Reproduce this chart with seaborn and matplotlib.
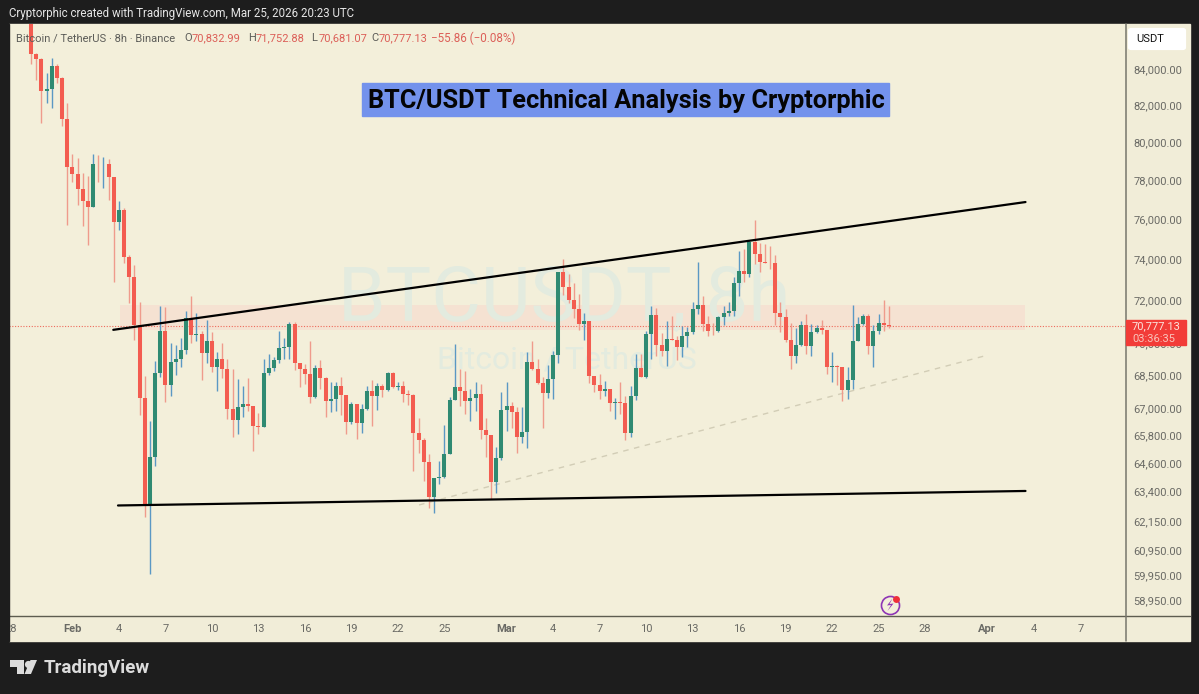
import pandas as pd
import matplotlib
matplotlib.use("Agg")
import matplotlib.pyplot as plt
from matplotlib.lines import Line2D
from matplotlib.patches import Rectangle, Polygon, FancyBboxPatch
import seaborn as sns

W, H = 1199, 694

opens = [87400, 84830, 84550, 82790, 82900, 84200, 83500, 81270, 78700, 78330, 77550, 76940, 76620, 78860, 78830, 78860, 78150, 75840, 76480, 74100, 73120,
         70830, 67490, 62830, 64850, 68600, 70560, 68060, 69120, 69250, 69665, 71150, 70340, 70400, 69540, 70100, 68870, 69260, 68790, 66980, 66490,
         67060, 67190, 67120, 66240, 66170, 68620, 68820, 69200, 69740, 69800, 70860, 69050, 68790, 68560, 67500, 68850, 68370, 67340, 67430, 68000,
         67600, 66400, 67190, 66370, 66980, 67790, 67540, 68020, 67835, 68600, 67980, 68020, 67640, 67600, 65900, 65610, 64640, 63150, 63960, 64030,
         65000, 67380, 67950, 67790, 67350, 67460, 67650, 66050, 65830, 63800, 64810, 66935, 67120, 66830, 65750, 65980, 69090, 68790, 68140, 67680,
         68320, 69430, 73370, 72640, 72020, 71600, 70870, 71040, 68460, 68050, 67790, 67870, 67240, 67280, 67240, 65930, 67570, 68850, 68400, 70400,
         71310, 69900, 69620, 70180, 70150, 69790, 70310, 70510, 71580, 71790, 70880, 70570, 70540, 71190, 71420, 71480, 72830, 73430, 73270, 74870,
         74240, 73860, 73840, 73820, 71420, 71200, 70135, 69400, 69900, 70830, 69840, 70490, 70700, 70610, 68880, 68920, 68880, 67835, 68290, 70090,
         70880, 71270, 69860, 70560, 70930, 70832.99]
closes = [84830, 84550, 82790, 82900, 84200, 83500, 81270, 78700, 78330, 77550, 76940, 76620, 78860, 78830, 78860, 78150, 75840, 76480, 74100, 73120, 70830,
          67490, 62830, 64850, 68600, 70560, 68060, 69120, 69250, 69665, 71150, 70340, 70400, 69540, 70100, 68870, 69260, 68790, 66980, 66490, 67060,
          67190, 67120, 66240, 66170, 68620, 68820, 69200, 69740, 69800, 70860, 69050, 68790, 68560, 67500, 68850, 68370, 67340, 67430, 68000, 67600,
          66400, 67190, 66370, 66980, 67790, 67540, 68020, 67835, 68600, 67980, 68020, 67640, 67600, 65900, 65610, 64640, 63150, 63960, 64030, 65000,
          67380, 67950, 67790, 67350, 67460, 67650, 66050, 65830, 63800, 64810, 66935, 67120, 66830, 65750, 65980, 69090, 68790, 68140, 67680, 68320,
          69430, 73370, 72640, 72020, 71600, 70870, 71040, 68460, 68050, 67790, 67870, 67240, 67280, 67240, 65930, 67570, 68850, 68400, 70400, 71310,
          69900, 69620, 70180, 70150, 69790, 70310, 70510, 71580, 71790, 70880, 70570, 70540, 71190, 71420, 71480, 72830, 73430, 73270, 74870, 74240,
          73860, 73840, 73820, 71420, 71200, 70135, 69400, 69900, 70830, 69840, 70490, 70700, 70610, 68880, 68920, 68880, 67835, 68290, 70090, 70880,
          71270, 69860, 70560, 70930, 70832, 70777.13]
highs = [88000, 84900, 84600, 83780, 84600, 84280, 83570, 82150, 79370, 79160, 78380, 78210, 79400, 79340, 79220, 79120, 78150, 76930, 76580, 74220, 73700,
         71950, 68480, 66430, 69170, 71740, 71680, 70000, 69880, 70230, 71520, 72230, 71400, 70550, 71075, 70500, 69550, 70000, 69250, 68790, 68330,
         68020, 68370, 67120, 66790, 69250, 69460, 69360, 70530, 70230, 70970, 70970, 69050, 69000, 70090, 68970, 69200, 68440, 68200, 68180, 68440,
         67600, 67300, 67190, 67190, 68020, 68290, 68170, 68100, 68660, 68630, 68200, 68220, 67835, 67630, 66560, 65680, 65000, 63980, 64710, 66270,
         67530, 69930, 68800, 68700, 67880, 68190, 68110, 66580, 65830, 65320, 67730, 68190, 67300, 67050, 67050, 69550, 70060, 69250, 68440, 68970,
         69620, 73400, 74000, 73290, 72830, 72300, 71420, 71040, 68460, 68540, 68220, 67870, 67480, 68190, 67570, 68030, 69470, 69470, 70560, 71750,
         71650, 70450, 71040, 71280, 70310, 70780, 70750, 71950, 73890, 72230, 71270, 70920, 71270, 71750, 71940, 73150, 74430, 74500, 74970, 75970,
         74820, 74770, 74640, 74220, 71950, 71600, 70920, 70700, 71000, 71340, 70880, 70830, 71075, 70610, 69550, 68970, 68880, 68870, 71800, 71230,
         71360, 71340, 70830, 71340, 72000, 71752.88]
lows = [84270, 83400, 81030, 82130, 81840, 83250, 80850, 75720, 77930, 76730, 75640, 74700, 76620, 77890, 77600, 76990, 72900, 75470, 73800, 71900, 70135,
        66710, 62330, 60000, 64500, 68420, 67280, 67570, 68500, 68860, 69480, 70000, 70060, 68290, 69080, 68660, 67790, 68370, 66520, 65760, 65860,
        66640, 66900, 65120, 65860, 66170, 68500, 68690, 69080, 69250, 69250, 68740, 67980, 68110, 67260, 67470, 67870, 66610, 66860, 66890, 66720,
        65870, 66320, 65640, 65900, 66940, 66240, 66940, 67500, 67790, 67930, 67835, 67280, 67150, 64280, 65030, 63860, 62700, 62480, 63700, 63960,
        65000, 67380, 67100, 66740, 66460, 66880, 65640, 64880, 63070, 63320, 64740, 66020, 66120, 65030, 65490, 65250, 68740, 68110, 66150, 67460,
        67410, 69080, 72270, 71890, 71160, 70600, 70135, 68140, 67750, 67410, 67540, 66890, 66520, 66750, 65610, 65760, 67370, 68400, 68370, 69260,
        69400, 69400, 68940, 70150, 69200, 69350, 69790, 70420, 71360, 70570, 70320, 70370, 70500, 70840, 71270, 71270, 72230, 72880, 73150, 73760,
        73400, 73840, 73510, 70840, 70500, 70030, 68770, 69080, 69870, 69470, 69400, 70450, 70420, 68540, 68180, 68060, 67350, 67430, 67880, 70060,
        70840, 69480, 68880, 70420, 70570, 70681.07]

first_candle = "2026-01-29 08:00"
last_price = 70777.13

price_ticks = [84000, 82000, 80000, 78000, 76000, 74000, 72000, 70000, 68500, 67000, 65800, 64600, 63400, 62150, 60950, 59950, 58950]
date_ticks = ["2026-01-28", "2026-02-01", "2026-02-04", "2026-02-07", "2026-02-10", "2026-02-13", "2026-02-16", "2026-02-19", "2026-02-22", "2026-02-25",
              "2026-03-01", "2026-03-04", "2026-03-07", "2026-03-10", "2026-03-13", "2026-03-16", "2026-03-19", "2026-03-22", "2026-03-25", "2026-03-28",
              "2026-04-01", "2026-04-04", "2026-04-07"]
date_labels = ["28", "Feb", "4", "7", "10", "13", "16", "19", "22", "25", "Mar", "4", "7", "10", "13", "16", "19", "22", "25", "28", "Apr", "4", "7"]

upper_dates = ["2026-02-03 15:20", "2026-04-03 11:15"]
upper_prices = [70605, 76880]
lower_dates = ["2026-02-03 22:40", "2026-04-03 11:15"]
lower_prices = [62808, 63418]
dash_dates = ["2026-02-23 08:40", "2026-04-01 01:10"]
dash_prices = [62830, 69430]
zone_dates = ["2026-02-04 02:00", "2026-04-03 10:00"]
zone_prices = [70605, 71785]

PANE = "#f3efda"
DARK = "#1d1d1d"
GREY = "#6a6a65"
RED_TXT = "#dc5f58"

sns.set_theme(style="white")
plt.rcParams["font.family"] = ["Roboto", "DejaVu Sans"]


def px(x, y):
    return x / W, 1 - y / H


def label(x, y, s, **kw):
    kw.setdefault("va", "center")
    kw.setdefault("zorder", 8)
    return fig.text(*px(x, y), s, **kw)


fig = plt.figure(figsize=(W / 100, H / 100), dpi=100, facecolor=DARK)

# pane + scale strips
fig.add_artist(Rectangle(px(9, 641), 1181 / W, 617 / H, transform=fig.transFigure, color="#f1edd8", zorder=-1))
ax = fig.add_axes([9 / W, 1 - 616 / H, 1116 / W, 592 / H], facecolor=PANE)

stamps = pd.date_range(first_candle, periods=len(opens), freq="8h")
rows_wick, rows_body = [], []
for i, stamp in enumerate(stamps):
    side = "up" if closes[i] >= opens[i] else "down"
    rows_wick += [(i, stamp, highs[i], side), (i, stamp, lows[i], side)]
    rows_body += [(i, stamp, opens[i], side), (i, stamp, closes[i], side)]
wicks = pd.DataFrame(rows_wick, columns=["id", "when", "price", "side"])
bodies = pd.DataFrame(rows_body, columns=["id", "when", "price", "side"])

# watermark sits above the zone, below everything else
ax.text(564 / W, 1 - 300 / H, "BTCUSDT, 8h", transform=fig.transFigure, fontsize=55,
        color="#e3ebdf", ha="center", va="center", zorder=0.7)
ax.text(567 / W, 1 - 360 / H, "Bitcoin / TetherUS", transform=fig.transFigure, fontsize=23,
        color="#e3ebdf", ha="center", va="center", zorder=0.7)

ax.fill_between(pd.to_datetime(zone_dates), zone_prices[0], zone_prices[1], color="#f5e2d2", lw=0, zorder=0.5)
ax.axhline(last_price, color="#ee6b5c", lw=0.8, ls=(0, (1, 1.5)), zorder=1)

sns.lineplot(data=wicks, x="when", y="price", hue="side", units="id", estimator=None, sort=False,
             palette={"up": "#5a98c4", "down": "#ef9b8c"}, lw=1.0, legend=False, ax=ax, zorder=2,
             solid_capstyle="butt")
sns.lineplot(data=bodies, x="when", y="price", hue="side", units="id", estimator=None, sort=False,
             palette={"up": "#2f8a72", "down": "#f35c50"}, lw=2.9, legend=False, ax=ax, zorder=3,
             solid_capstyle="butt")

sns.lineplot(x=pd.to_datetime(dash_dates), y=dash_prices, color="#d2cdb6", lw=1.0, ls=(0, (4, 4)), ax=ax, zorder=1.5)
sns.lineplot(x=pd.to_datetime(upper_dates), y=upper_prices, color="black", lw=1.6, ax=ax, zorder=4)
sns.lineplot(x=pd.to_datetime(lower_dates), y=lower_prices, color="black", lw=1.6, ax=ax, zorder=4)

ax.set_yscale("log")
ax.set_ylim(58349, 86563)
ax.set_xlim(pd.Timestamp("2026-01-27 21:57"), pd.Timestamp("2026-04-09 21:16"))
ax.set_xlabel("")
ax.set_ylabel("")
ax.yaxis.tick_right()
ax.set_yticks(price_ticks, [f"{p:,.2f}" for p in price_ticks])
ax.minorticks_off()
ax.set_xticks(pd.to_datetime(date_ticks), date_labels)
ax.tick_params(axis="y", length=0, pad=6, labelsize=8, labelcolor=GREY)
ax.tick_params(axis="x", length=0, pad=6, labelsize=8, labelcolor=GREY)
for tick in ax.get_xticklabels():
    if tick.get_text() in ("Feb", "Mar", "Apr"):
        tick.set_fontweight("bold")
ax.grid(False)
for side in ax.spines.values():
    side.set_visible(False)

# scale borders
fig.add_artist(Line2D([9 / W, 1190 / W], [1 - 616 / H] * 2, color="#5e5d50", lw=1.0, zorder=5))
fig.add_artist(Line2D([1125.5 / W] * 2, [1 - 24 / H, 1 - 641 / H], color="#77776c", lw=1.1, zorder=5))
# dark strip hides the part of the "28" label past the pane
fig.add_artist(Rectangle(px(0, 641), 9 / W, 617 / H, transform=fig.transFigure, color=DARK, zorder=5))

# header
label(9, 14, "Cryptorphic created with TradingView.com, Mar 25, 2026 20:23 UTC", color="#e6e6e6", fontsize=8.3)
label(16, 38, "Bitcoin / TetherUS · 8h · Binance", color="#5c5c58", fontsize=8)
for x, tag, val in [(184, "O", "70,832.99"), (248, "H", "71,752.88"), (311, "L", "70,681.07"), (371, "C", "70,777.13")]:
    label(x, 38, tag, color="#5c5c58", fontsize=8)
    label(x + 8, 38, val, color=RED_TXT, fontsize=8)
label(431, 38, "\u221255.86 (\u22120.08%)", color=RED_TXT, fontsize=8.4)

# title
fig.add_artist(Rectangle(px(362, 116), 527 / W, 33 / H, transform=fig.transFigure, color="#7392ec", zorder=6))
label(626, 101, "BTC/USDT Technical Analysis by Cryptorphic", ha="center", color="#050505", fontsize=18.3,
      fontweight="bold")

# scale tags
fig.add_artist(FancyBboxPatch(px(1130, 48), 54 / W, 18 / H, boxstyle="round,pad=0,rounding_size=0.001",
                              transform=fig.transFigure, fc="white", ec="white", lw=3, zorder=6))
label(1136, 39, "USDT", color="#111111", fontsize=8)
fig.add_artist(Rectangle(px(1126, 345), 60 / W, 25 / H, transform=fig.transFigure, color="#f23c38", zorder=6))
label(1132, 326.5, "70,777.13", color="#fbe3dc", fontsize=8)
label(1132, 339, "03:36:35", color="#f9c4bb", fontsize=8)

# purple bolt icon
fig.add_artist(Line2D(*zip(px(890, 605)), marker="o", ms=13, mfc="none", mec="#8e35b5", mew=1.2, zorder=7))
bolt = [(892.5, 598.5), (887, 605.5), (891, 605), (887.5, 611), (893.5, 603.5), (889.5, 604)]
fig.add_artist(Polygon([px(*p) for p in bolt], closed=True, transform=fig.transFigure, fc="#8e35b5", ec="none", zorder=7))
fig.add_artist(Line2D(*zip(px(896, 599)), marker="o", ms=5, mfc="#ee2f3a", mec="#ee2f3a", mew=0, zorder=8))

# TradingView logo
logo = "#dcdcdc"
t_bar = [(10, 660), (24, 660), (24, 674), (17, 674), (17, 667), (10, 667)]
slash = [(31, 674), (37, 660), (30.5, 660), (24.5, 674)]
fig.add_artist(Polygon([px(*p) for p in t_bar], closed=True, transform=fig.transFigure, fc=logo, ec="none", zorder=7))
fig.add_artist(Polygon([px(*p) for p in slash], closed=True, transform=fig.transFigure, fc=logo, ec="none", zorder=7))
fig.add_artist(Line2D(*zip(px(28, 663.5)), marker="o", ms=5.2, mfc=logo, mec=logo, mew=0, zorder=7))
label(44, 668, "TradingView", color=logo, fontsize=13.5, fontweight="bold")

fig.savefig("out.png", dpi=100, facecolor=DARK)
